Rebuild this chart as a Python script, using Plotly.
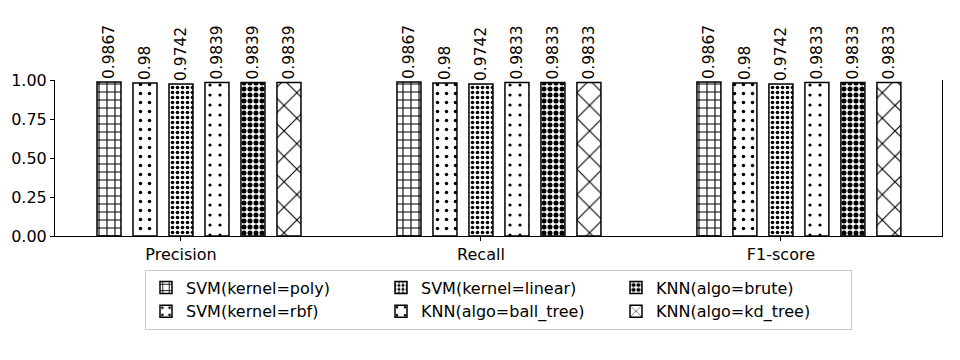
import plotly.graph_objects as go

# metrics on the x axis
metrics = ["Precision", "Recall", "F1-score"]

# one series per model
models = [
    "SVM(kernel=poly)",
    "SVM(kernel=rbf)",
    "SVM(kernel=linear)",
    "KNN(algo=ball_tree)",
    "KNN(algo=brute)",
    "KNN(algo=kd_tree)",
]

svm_poly = [0.9867, 0.9867, 0.9867]
svm_rbf = [0.98, 0.98, 0.98]
svm_linear = [0.9742, 0.9742, 0.9742]
knn_ball_tree = [0.9839, 0.9833, 0.9833]
knn_brute = [0.9839, 0.9833, 0.9833]
knn_kd_tree = [0.9839, 0.9833, 0.9833]

series = [svm_poly, svm_rbf, svm_linear, knn_ball_tree, knn_brute, knn_kd_tree]

y_ticks = [0, 0.25, 0.5, 0.75, 1.0]

# hatch look for each bar (plotly has no rings/stars, so dots stand in)
patterns = [
    dict(shape="+", size=8, solidity=0.25),
    dict(shape=".", size=9, solidity=0.12),
    dict(shape=".", size=5, solidity=0.42),
    dict(shape=".", size=10, solidity=0.08),
    dict(shape=".", size=6, solidity=0.55),
    dict(shape="x", size=18, solidity=0.12),
]
# matplotlib legend is column-major, 3 columns x 2 rows
legend_rank = [1, 4, 2, 5, 3, 6]

FONT = "DejaVu Sans"
bar_w = 0.08
step = 0.12

fig = go.Figure()
x_pos = list(range(len(metrics)))

for i, (name, vals) in enumerate(zip(models, series)):
    fig.add_trace(go.Bar(
        x=x_pos,
        y=vals,
        name=name,
        width=bar_w,
        offset=(i - 2) * step - bar_w / 2,
        marker=dict(
            color="white",
            line=dict(color="black", width=1.5),
            pattern=dict(fgcolor="black", bgcolor="white", fgopacity=1, **patterns[i]),
        ),
        text=[f"{v:g}" for v in vals],
        textposition="outside",
        textangle=-90,
        constraintext="none",
        cliponaxis=False,
        textfont=dict(family=FONT, size=15.5, color="black"),
        legendrank=legend_rank[i],
    ))

# the html body has an 8px margin, margins below account for it
fig.update_layout(
    width=960,
    height=360,
    margin=dict(l=47, r=26, t=72, b=132, autoexpand=False),
    plot_bgcolor="white",
    paper_bgcolor="white",
    font=dict(family=FONT, size=16, color="black"),
    barmode="overlay",
    showlegend=True,
    legend=dict(
        orientation="h",
        x=0.5,
        xanchor="center",
        y=-0.215,
        yanchor="top",
        bordercolor="#cccccc",
        borderwidth=1,
        entrywidth=190,
        font=dict(family=FONT, size=16),
        tracegroupgap=0,
    ),
)

fig.update_xaxes(
    tickvals=x_pos,
    ticktext=metrics,
    range=[-0.42, 2.537],
    showline=True,
    linecolor="black",
    linewidth=1,
    ticks="outside",
    ticklen=4,
    tickcolor="black",
    showgrid=False,
    zeroline=False,
    automargin=False,
)
fig.update_yaxes(
    range=[0, 1.0],
    tickvals=y_ticks,
    tickformat=".2f",
    showline=True,
    mirror=True,
    linecolor="black",
    linewidth=1,
    ticks="outside",
    ticklen=4,
    tickcolor="black",
    showgrid=False,
    zeroline=False,
    automargin=False,
)

fig.write_html("out.html")
